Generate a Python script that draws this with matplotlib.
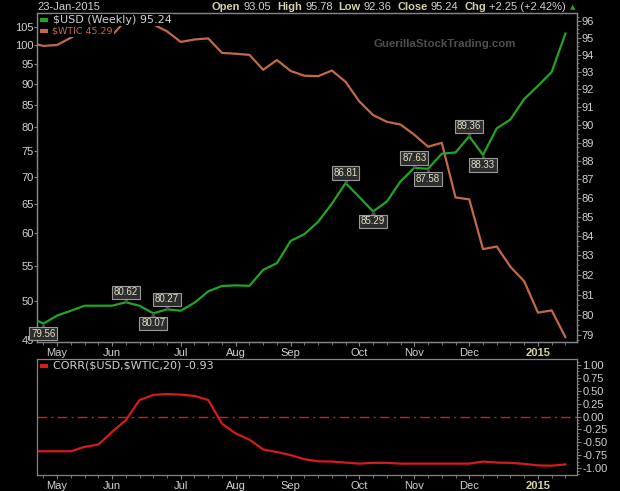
import numpy as np
import pandas as pd
import matplotlib
matplotlib.use("Agg")
import matplotlib.pyplot as plt
import matplotlib.dates as mdates
from matplotlib.ticker import FixedLocator, NullLocator, FixedFormatter, NullFormatter
from matplotlib.transforms import offset_copy
from matplotlib.lines import Line2D

# ---------------- data ----------------
dates = pd.date_range("2014-04-25", periods=40, freq="W-FRI")
usd = [79.90, 79.56, 79.96, 80.20, 80.45, 80.45, 80.45, 80.62, 80.45, 80.07,
       80.27, 80.20, 80.60, 81.17, 81.44, 81.47, 81.45, 82.26, 82.60, 83.75,
       84.10, 84.75, 85.70, 86.81, 86.05, 85.29, 85.82, 86.90, 87.63, 87.58,
       88.40, 88.47, 89.36, 88.33, 89.80, 90.30, 91.45, 92.20, 93.00, 95.24]
wtic = [100.6, 99.76, 100.0, 102.0, 104.35, 102.71, 102.66, 106.91, 107.26, 105.74,
        103.77, 100.83, 101.5, 101.8, 97.88, 97.65, 97.35, 93.5, 96.0, 93.2,
        92.0, 91.9, 93.3, 90.5, 85.8, 82.7, 81.2, 80.6, 78.4, 75.9,
        76.7, 66.15, 65.8, 57.5, 57.9, 54.8, 52.7, 48.4, 48.7, 45.29]
corr = [-0.675, -0.675, -0.675, -0.675, -0.59, -0.545, -0.30, -0.07, 0.32, 0.42,
        0.435, 0.425, 0.40, 0.32, -0.14, -0.33, -0.45, -0.64, -0.69, -0.75,
        -0.83, -0.87, -0.875, -0.895, -0.915, -0.90, -0.90, -0.915, -0.915, -0.915,
        -0.915, -0.915, -0.915, -0.875, -0.895, -0.90, -0.92, -0.95, -0.955, -0.93]
wtic_ticks = [45, 50, 55, 60, 65, 70, 75, 80, 85, 90, 95, 100, 105]
usd_ticks = list(range(79, 97))
corr_ticks = [1.00, 0.75, 0.50, 0.25, 0.00, -0.25, -0.50, -0.75, -1.00]
peak_idx = [7, 10, 23, 28, 32]
trough_idx = [1, 9, 25, 29, 33]
usd_label = r"\$USD (Weekly) 95.24"
wtic_label = r"\$WTIC 45.29"
corr_label = r"CORR(\$USD,\$WTIC,20) -0.93"
header = [("Open", True), ("93.05", False), ("High", True), ("95.78", False),
          ("Low", True), ("92.36", False), ("Close", True), ("95.24", False),
          ("Chg", True), ("+2.25 (+2.42%)", False)]

# ---------------- style ----------------
BG = "black"
FRAME = "#858585"
TXT = "#d2d2d2"
BEIGE = "#d6d2a8"
GREEN = "#22a522"
ORANGE = "#c26a48"
RED = "#d61a1e"
FONT = "Liberation Sans"

W, H = 620, 491
fig = plt.figure(figsize=(6.2, 4.91), dpi=100, facecolor=BG)

def fx(px):
    return px / W

def fy(py):
    return 1 - py / H

x = mdates.date2num(dates)
xlo, xhi = x[0] + 3.75, x[-1] + 5.9

# month tick positions: first week whose Monday falls in a new month
mon = dates - pd.Timedelta(days=4)
mt_idx = [i for i in range(1, len(dates)) if mon[i].month != mon[i - 1].month]
mt_x = [x[i] for i in mt_idx]
mt_lab = [("%d" % dates[i].year) if mon[i].month == 1 else mon[i].strftime("%b") for i in mt_idx]

ax = fig.add_axes([fx(37), fy(342), fx(540), 329 / H])
ax.set_facecolor(BG)
ax2 = ax.twinx()
axc = fig.add_axes([fx(37), fy(475), fx(540), 116 / H])
axc.set_facecolor(BG)

# ---- main panel
ax.plot(x, wtic, color=ORANGE, lw=1.6)
ax.set_yscale("log")
ax.set_ylim(44.7, 109.06)
ax.yaxis.set_major_locator(FixedLocator(wtic_ticks))
ax.yaxis.set_major_formatter(FixedFormatter([str(t) for t in wtic_ticks]))
ax.yaxis.set_minor_locator(NullLocator())
ax.yaxis.set_minor_formatter(NullFormatter())

ax2.plot(x, usd, color=GREEN, lw=1.6, zorder=3)
ax2.set_yscale("log")
ax2.set_ylim(78.66, 96.46)
ax2.yaxis.set_major_locator(FixedLocator(usd_ticks))
ax2.yaxis.set_major_formatter(FixedFormatter([str(t) for t in usd_ticks]))
ax2.yaxis.set_minor_locator(FixedLocator(list(np.arange(78.75, 96.5, 0.25))))
ax2.yaxis.set_minor_formatter(NullFormatter())

for a in (ax, ax2, axc):
    a.set_xlim(xlo, xhi)
    for s in a.spines.values():
        s.set_color(FRAME)
        s.set_linewidth(0.9)

ax.tick_params(axis="y", which="major", direction="out", length=2, width=0.8,
               color=FRAME, labelcolor=TXT, labelsize=8, pad=0.5)
ax2.tick_params(axis="y", which="major", direction="out", length=3, width=0.8,
                color=FRAME, labelcolor=TXT, labelsize=8, pad=0.5)
ax2.tick_params(axis="y", which="minor", direction="out", length=1.5, width=0.6, color=FRAME)

for a in (ax, axc):
    a.xaxis.set_major_locator(FixedLocator(mt_x))
    a.xaxis.set_major_formatter(FixedFormatter(mt_lab))
    a.xaxis.set_minor_locator(FixedLocator(list(x)))
    a.xaxis.set_minor_formatter(NullFormatter())
    a.tick_params(axis="x", which="major", direction="out", length=3, width=0.8,
                  color=FRAME, labelcolor=TXT, labelsize=8, pad=1.5)
    a.tick_params(axis="x", which="minor", direction="out", length=2, width=0.6, color=FRAME)
    for lab in a.get_xticklabels():
        lab.set_fontfamily(FONT)
        if lab.get_text().isdigit():
            lab.set_fontweight("bold")
            lab.set_color(BEIGE)
ax2.tick_params(axis="x", which="both", length=0, labelbottom=False)
for lab in ax.get_yticklabels() + ax2.get_yticklabels():
    lab.set_fontfamily(FONT)

# annotations on USD
def annotate(i, up):
    v = usd[i]
    dy = 10 if up else -10
    ax2.annotate("%.2f" % v, xy=(x[i], v), xytext=(0, dy), textcoords="offset pixels",
                 ha="center", va="center", fontsize=7, fontfamily=FONT, color="#e2e0c4",
                 bbox=dict(boxstyle="square,pad=0.18", fc="#2c2c2c", ec="#9a9a9a", lw=0.8),
                 zorder=6, annotation_clip=False)
    tr = offset_copy(ax2.transData, fig=fig, x=0, y=(3 if up else -3), units="dots")
    ax2.plot([x[i]], [v], marker=("v" if up else "^"), ms=5, color="#4a4a4a",
             mec="#4a4a4a", transform=tr, zorder=5, clip_on=False)

for i in peak_idx:
    annotate(i, True)
for i in trough_idx:
    annotate(i, False)

# legend rows (each with its own black backing, like the reference)
def legend_row(axis, px, py, text, tcolor, lcolor, size=8):
    axis.text(fx(px), fy(py), text, transform=fig.transFigure, color=tcolor,
              fontsize=size, ha="left", va="center", zorder=10,
              bbox=dict(boxstyle="square,pad=0.12", fc=BG, ec="none"))
    axis.add_line(Line2D([fx(40), fx(48)], [fy(py), fy(py)], transform=fig.transFigure,
                         color=lcolor, lw=3, zorder=11, solid_capstyle="butt"))

legend_row(ax2, 53, 20, usd_label, TXT, GREEN)
legend_row(ax2, 52, 31, wtic_label, ORANGE, ORANGE, size=6.8)

# ---- correlation panel
axc.plot(x, corr, color=RED, lw=1.6)
axc.axhline(0, color=RED, lw=1.0, dashes=(7, 3, 1.5, 3))
axc.set_ylim(-1.136, 1.117)
axc.yaxis.tick_right()
axc.yaxis.set_major_locator(FixedLocator(corr_ticks))
axc.yaxis.set_major_formatter(FixedFormatter(["%.2f" % t for t in corr_ticks]))
axc.yaxis.set_minor_locator(FixedLocator(list(np.arange(-1.125, 1.126, 0.0625))))
axc.yaxis.set_minor_formatter(NullFormatter())
axc.tick_params(axis="y", which="major", direction="out", length=3, width=0.8,
                color=FRAME, labelcolor=TXT, labelsize=8, pad=1)
axc.tick_params(axis="y", which="minor", direction="out", length=1.5, width=0.6, color=FRAME)
for lab in axc.get_yticklabels():
    lab.set_fontfamily(FONT)
legend_row(axc, 53, 366, corr_label, TXT, RED)

# ---- header and watermark
fig.text(fx(37), fy(7), "23-Jan-2015", color=TXT, fontsize=8, fontfamily=FONT,
         ha="left", va="center")
renderer = fig.canvas.get_renderer()
items = []
for t, bold in header:
    items.append(fig.text(0, fy(7), t, color=(BEIGE if bold else TXT), fontsize=8,
                          fontweight=("bold" if bold else "normal"), fontfamily=FONT,
                          ha="left", va="center"))
widths = [it.get_window_extent(renderer).width for it in items]
gaps = [3 if b else 6 for _, b in header]
pos = 566.0 - (sum(widths) + sum(gaps[:-1]))
for it, w, g in zip(items, widths, gaps):
    it.set_x(fx(pos))
    pos += w + g
fig.text(fx(570), fy(7), "\u25B2", color=GREEN, fontsize=5, ha="left", va="center",
         fontfamily="DejaVu Sans")
fig.text(fx(373), fy(44), "GuerillaStockTrading.com", color="#4f4f4f", fontsize=8.2,
         fontweight="bold", fontfamily=FONT, ha="left", va="center")

fig.savefig("out.png", dpi=100, facecolor=BG)
